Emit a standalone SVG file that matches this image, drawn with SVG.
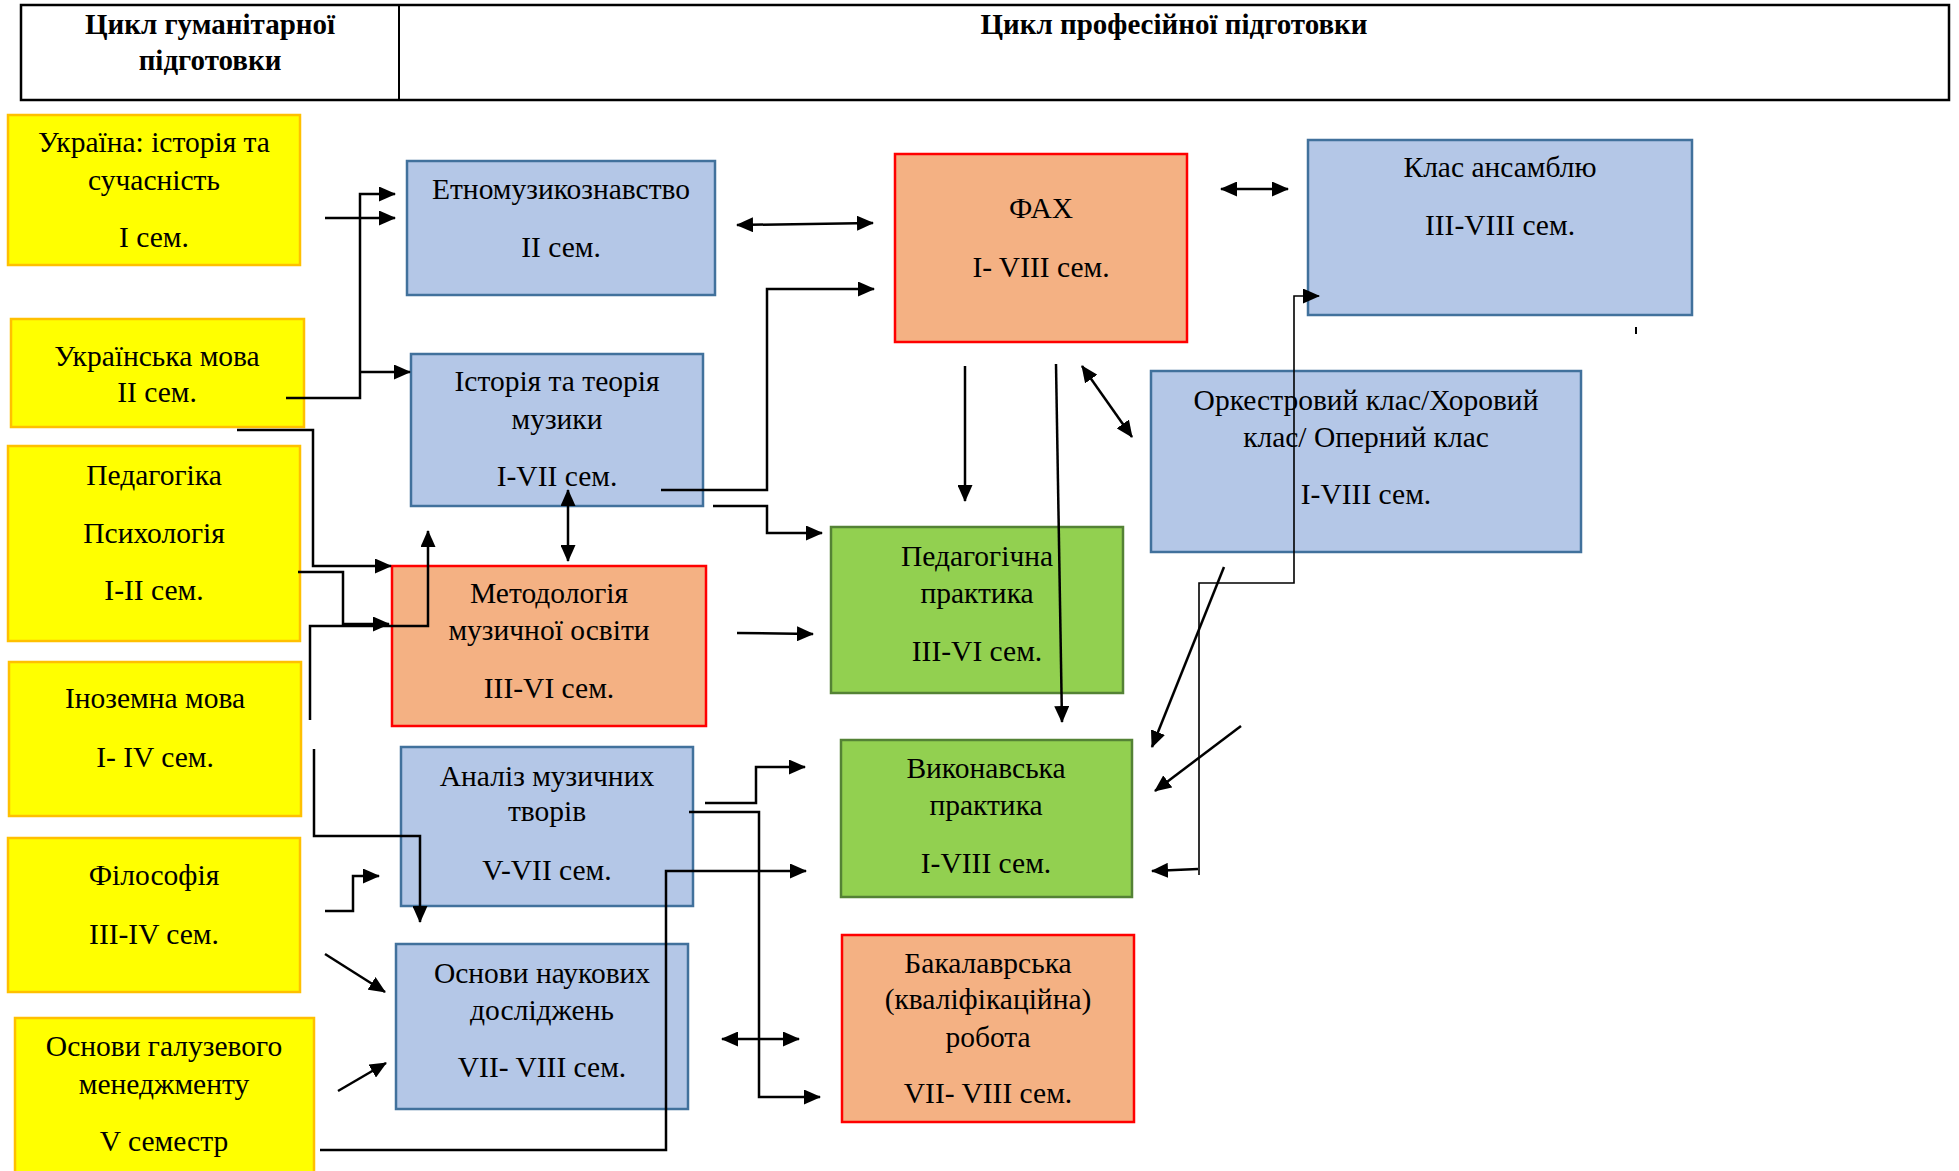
<svg xmlns="http://www.w3.org/2000/svg" width="1959" height="1171" viewBox="0 0 1959 1171">
<style>
.t{font-family:"Liberation Serif","Times New Roman",serif;font-size:29.5px;fill:#000;text-anchor:middle}
.h{font-family:"Liberation Serif","Times New Roman",serif;font-size:29px;font-weight:bold;fill:#000;text-anchor:middle}
.y{fill:#FFFF00;stroke:#FFC000;stroke-width:2.5}
.b{fill:#B4C7E7;stroke:#41719C;stroke-width:2.5}
.o{fill:#F4B183;stroke:#FF0000;stroke-width:2.5}
.g{fill:#92D050;stroke:#548235;stroke-width:2.5}
.c{fill:none;stroke:#000;stroke-width:2.5}
.a{marker-end:url(#ar)}
.d{marker-start:url(#ar);marker-end:url(#ar)}
.thin{fill:none;stroke:#000;stroke-width:1.6}
</style>
<defs>
<marker id="ar" markerUnits="userSpaceOnUse" markerWidth="17" markerHeight="15" refX="16" refY="7.5" orient="auto-start-reverse" viewBox="0 0 17 15">
<path d="M0,0 L17,7.5 L0,15 z" fill="#000"/>
</marker>
</defs>
<rect width="1959" height="1171" fill="#fff"/>
<g id="header">
<rect x="21" y="5" width="1928" height="95" fill="#fff" stroke="#000" stroke-width="2.5"/>
<line x1="399" y1="5" x2="399" y2="100" stroke="#000" stroke-width="2"/>
<text class="h" x="210" y="34">Цикл гуманітарної</text>
<text class="h" x="210" y="70">підготовки</text>
<text class="h" x="1174" y="34">Цикл професійної підготовки</text>
</g>
<g id="n-ukraina"><rect class="y" x="8" y="115" width="292" height="150"/>
<text class="t" x="154" y="152">Україна: історія та</text><text class="t" x="154" y="190">сучасність</text><text class="t" x="154" y="247">I сем.</text></g>
<g id="n-ukrmova"><rect class="y" x="11" y="319" width="293" height="108"/>
<text class="t" x="157" y="366">Українська мова</text><text class="t" x="157" y="402">II сем.</text></g>
<g id="n-pedagogika"><rect class="y" x="8" y="446" width="292" height="195"/>
<text class="t" x="154" y="485">Педагогіка</text><text class="t" x="154" y="543">Психологія</text><text class="t" x="154" y="600">I-II сем.</text></g>
<g id="n-inozemna"><rect class="y" x="9" y="662" width="292" height="154"/>
<text class="t" x="155" y="708">Іноземна мова</text><text class="t" x="155" y="767">I- IV сем.</text></g>
<g id="n-filosofia"><rect class="y" x="8" y="838" width="292" height="154"/>
<text class="t" x="154" y="885">Філософія</text><text class="t" x="154" y="944">III-IV сем.</text></g>
<g id="n-menedzhment"><rect class="y" x="15" y="1018" width="299" height="160"/>
<text class="t" x="164" y="1056">Основи галузевого</text><text class="t" x="164" y="1094">менеджменту</text><text class="t" x="164" y="1151">V семестр</text></g>
<g id="n-etno"><rect class="b" x="407" y="161" width="308" height="134"/>
<text class="t" x="561" y="199">Етномузикознавство</text><text class="t" x="561" y="257">II сем.</text></g>
<g id="n-istoria"><rect class="b" x="411" y="354" width="292" height="152"/>
<text class="t" x="557" y="391">Історія та теорія</text><text class="t" x="557" y="429">музики</text><text class="t" x="557" y="486">I-VII сем.</text></g>
<g id="n-metodologia"><rect class="o" x="392" y="566" width="314" height="160"/>
<text class="t" x="549" y="603">Методологія</text><text class="t" x="549" y="640">музичної освіти</text><text class="t" x="549" y="698">III-VI сем.</text></g>
<g id="n-analiz"><rect class="b" x="401" y="747" width="292" height="159"/>
<text class="t" x="547" y="786">Аналіз музичних</text><text class="t" x="547" y="821">творів</text><text class="t" x="547" y="880">V-VII сем.</text></g>
<g id="n-osnovy"><rect class="b" x="396" y="944" width="292" height="165"/>
<text class="t" x="542" y="983">Основи наукових</text><text class="t" x="542" y="1020">досліджень</text><text class="t" x="542" y="1077">VII- VIII сем.</text></g>
<g id="n-fakh"><rect class="o" x="895" y="154" width="292" height="188"/>
<text class="t" x="1041" y="218">ФАХ</text><text class="t" x="1041" y="277">I- VIII сем.</text></g>
<g id="n-ansambl"><rect class="b" x="1308" y="140" width="384" height="175"/>
<text class="t" x="1500" y="177">Клас ансамблю</text><text class="t" x="1500" y="235">III-VIII сем.</text></g>
<g id="n-orkestr"><rect class="b" x="1151" y="371" width="430" height="181"/>
<text class="t" x="1366" y="410">Оркестровий клас/Хоровий</text><text class="t" x="1366" y="447">клас/ Оперний клас</text><text class="t" x="1366" y="504">I-VIII сем.</text></g>
<g id="n-pedpraktyka"><rect class="g" x="831" y="527" width="292" height="166"/>
<text class="t" x="977" y="566">Педагогічна</text><text class="t" x="977" y="603">практика</text><text class="t" x="977" y="661">III-VI сем.</text></g>
<g id="n-vykpraktyka"><rect class="g" x="841" y="740" width="291" height="157"/>
<text class="t" x="986" y="778">Виконавська</text><text class="t" x="986" y="815">практика</text><text class="t" x="986" y="873">I-VIII сем.</text></g>
<g id="n-bakalavr"><rect class="o" x="842" y="935" width="292" height="187"/>
<text class="t" x="988" y="973">Бакалаврська</text><text class="t" x="988" y="1009">(кваліфікаційна)</text><text class="t" x="988" y="1047">робота</text><text class="t" x="988" y="1103">VII- VIII сем.</text></g>
<g id="connectors">
<path class="c a" d="M325,218 L395,218"/>
<path class="c a" d="M286,398 L360,398 L360,194 L395,194"/>
<path class="c a" d="M360,372 L410,372"/>
<path class="c a" d="M237,430 L313,430 L313,566 L391,566"/>
<path class="c a" d="M298,572 L343,572 L343,624 L389,624"/>
<path class="c a" d="M310,720 L310,626 L428,626 L428,531"/>
<path class="c d" d="M568,490 L568,561"/>
<path class="c a" d="M314,749 L314,836 L420,836 L420,922"/>
<path class="c a" d="M661,490 L767,490 L767,289 L874,289"/>
<path class="c a" d="M713,506 L767,506 L767,533 L822,533"/>
<path class="c d" d="M737,225 L873,223"/>
<path class="c d" d="M1221,189 L1288,189"/>
<path class="c a" d="M965,366 L965,501"/>
<path class="c a" d="M1056,364 L1062,722"/>
<path class="c d" d="M1082,366 L1132,437"/>
<path class="thin a" d="M1199,875 L1199,583 L1294,583 L1294,296 L1319,296"/>
<path class="c a" d="M1198,869 L1152,871"/>
<path class="c a" d="M1224,567 L1152,747"/>
<path class="c a" d="M1241,726 L1155,791"/>
<path class="c a" d="M737,633 L813,634"/>
<path class="c a" d="M705,803 L756,803 L756,767 L805,767"/>
<path class="c a" d="M689,812 L759,812 L759,1097 L820,1097"/>
<path class="c a" d="M320,1150 L666,1150 L666,871 L806,871"/>
<path class="c d" d="M722,1039 L799,1039"/>
<path class="c a" d="M325,911 L353,911 L353,876 L379,876"/>
<path class="c a" d="M325,954 L385,992"/>
<path class="c a" d="M338,1091 L386,1063"/>
<line x1="1636" y1="327" x2="1636" y2="334" stroke="#000" stroke-width="2"/>
</g>
</svg>
